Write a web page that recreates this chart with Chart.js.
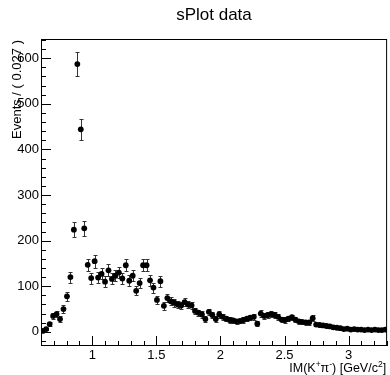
<!DOCTYPE html>
<html>
<head>
<meta charset="utf-8">
<script src="https://cdn.jsdelivr.net/npm/chart.js@4"></script>
<style>
  body { margin: 0; background: #fff; }
</style>
</head>
<body>
<canvas id="splot" width="390" height="375"></canvas>
<script>
// binning of IM(K+pi-): 100 bins of 0.027 from 0.6
const binLow = 0.6;
const binWidth = 0.027;

// sPlot weighted events per bin
const counts = [
  2, 6, 17, 35, 39, 28, 50, 78, 120, 224,
  587, 444, 227, 147, 118, 155, 119, 127, 110, 135,
  116, 123, 130, 117, 146, 112, 123, 90, 107, 146,
  146, 113, 97, 70, 111, 57, 74, 67, 64, 60,
  58, 65, 60, 58, 46, 42, 38, 28, 44, 37,
  28, 38, 33, 29, 26, 25, 23, 24, 26, 29,
  31, 33, 18, 40, 35, 37, 39, 37, 33, 27,
  26, 29, 32, 27, 23, 22, 21, 21, 30, 16,
  15, 14, 13, 12, 10, 9, 8, 6, 7, 5,
  6, 5, 5, 4, 5, 4, 5, 4, 4, 5
];

// error bar half lengths
const errors = [
  2, 3, 5, 7, 7, 6, 8, 10, 12, 17,
  26, 23, 17, 13, 12, 14, 12, 12, 12, 13,
  12, 12, 13, 12, 13, 12, 12, 10, 11, 13,
  13, 12, 11, 9, 12, 8, 9, 9, 9, 8,
  8, 9, 8, 8, 7, 7, 7, 6, 7, 7,
  6, 7, 6, 6, 6, 5, 5, 5, 6, 6,
  6, 6, 5, 7, 7, 7, 7, 7, 6, 6,
  6, 6, 6, 6, 5, 5, 5, 5, 6, 4,
  4, 4, 4, 4, 3, 3, 3, 3, 3, 2,
  3, 2, 2, 2, 2, 2, 2, 2, 2, 2
];

const xTicks = [1, 1.5, 2, 2.5, 3];
const yTicks = [0, 100, 200, 300, 400, 500, 600];
const xRange = [0.6, 3.3];
const yRange = [-31, 642];

const points = counts.map((c, i) => ({ x: binLow + binWidth * (i + 0.5), y: c }));

const font = '"Liberation Sans", Arial, sans-serif';

// ROOT-like frame, inward ticks, error bars and titles
const rootStyle = {
  id: 'rootStyle',
  beforeDatasetsDraw(chart) {
    const ctx = chart.ctx, a = chart.chartArea;
    const sx = chart.scales.x, sy = chart.scales.y;
    ctx.save();
    ctx.beginPath();
    ctx.rect(a.left, a.top, a.right - a.left, a.bottom - a.top);
    ctx.clip();
    ctx.strokeStyle = '#333';
    ctx.lineWidth = 1;
    points.forEach((p, i) => {
      const px = Math.round(sx.getPixelForValue(p.x)) + 0.5;
      const y1 = Math.round(sy.getPixelForValue(p.y - errors[i])) + 0.5;
      const y2 = Math.round(sy.getPixelForValue(p.y + errors[i])) + 0.5;
      ctx.beginPath();
      ctx.moveTo(px, y1); ctx.lineTo(px, y2);
      ctx.moveTo(px - 2, y1); ctx.lineTo(px + 2, y1);
      ctx.moveTo(px - 2, y2); ctx.lineTo(px + 2, y2);
      ctx.stroke();
    });
    ctx.restore();
  },
  afterDraw(chart) {
    const ctx = chart.ctx, a = chart.chartArea;
    const sx = chart.scales.x, sy = chart.scales.y;
    ctx.save();
    ctx.strokeStyle = '#000';
    ctx.lineWidth = 1;
    ctx.strokeRect(a.left + 0.5, a.top + 0.5, a.right - a.left - 1, a.bottom - a.top - 1);

    ctx.beginPath();
    for (let v = -20; v <= 640; v += 20) {
      const py = Math.round(sy.getPixelForValue(v)) + 0.5;
      const len = v % 100 === 0 ? 10 : 5;
      ctx.moveTo(a.left, py); ctx.lineTo(a.left + len, py);
    }
    for (let k = 6; k <= 33; k++) {
      const px = Math.round(sx.getPixelForValue(k / 10)) + 0.5;
      const len = k % 5 === 0 ? 10 : 5;
      ctx.moveTo(px, a.bottom); ctx.lineTo(px, a.bottom - len);
    }
    ctx.stroke();

    ctx.fillStyle = '#000';
    ctx.font = '17px ' + font;
    ctx.textAlign = 'center';
    ctx.textBaseline = 'middle';
    ctx.fillText('sPlot data', 214, 15);

    // y title, right-aligned to the top of the axis
    ctx.save();
    ctx.translate(17, a.top + 1);
    ctx.rotate(-Math.PI / 2);
    ctx.font = '13px ' + font;
    ctx.textAlign = 'right';
    ctx.fillText('Events / ( 0.027 )', 0, 0);
    ctx.restore();

    // x title with superscripts, right-aligned
    const parts = [
      ['IM(K', false], ['+', true], ['\u03c0', false], ['-', true],
      [') [GeV/c', false], ['2', true], [']', false]
    ];
    const big = '12.5px ' + font, small = '8.5px ' + font;
    let total = 0;
    parts.forEach(([t, sup]) => { ctx.font = sup ? small : big; total += ctx.measureText(t).width; });
    let cx = a.right - 1 - total;
    ctx.textAlign = 'left';
    ctx.textBaseline = 'alphabetic';
    parts.forEach(([t, sup]) => {
      ctx.font = sup ? small : big;
      ctx.fillText(t, cx, sup ? 367 : 372);
      cx += ctx.measureText(t).width;
    });
    ctx.restore();
  }
};

new Chart(document.getElementById('splot'), {
  type: 'scatter',
  data: {
    datasets: [{
      label: 'sPlot data',
      data: points,
      backgroundColor: '#000',
      borderWidth: 0,
      pointRadius: 2.9,
      pointHoverRadius: 2.9
    }]
  },
  options: {
    responsive: false,
    animation: false,
    events: [],
    layout: { padding: { top: 39, right: 2, left: 0, bottom: 0 } },
    plugins: {
      legend: { display: false },
      title: { display: false },
      tooltip: { enabled: false }
    },
    scales: {
      x: {
        type: 'linear',
        min: xRange[0],
        max: xRange[1],
        afterBuildTicks: s => { s.ticks = xTicks.map(v => ({ value: v })); },
        afterFit: s => { s.height = 29; },
        grid: { display: false, drawTicks: false },
        border: { display: false },
        ticks: {
          padding: 2,
          maxRotation: 0,
          autoSkip: false,
          color: '#000',
          font: { family: font, size: 13 },
          callback: v => String(v)
        }
      },
      y: {
        min: yRange[0],
        max: yRange[1],
        afterBuildTicks: s => { s.ticks = yTicks.map(v => ({ value: v })); },
        afterFit: s => { s.width = 41; },
        grid: { display: false, drawTicks: false },
        border: { display: false },
        ticks: {
          padding: 2,
          autoSkip: false,
          color: '#000',
          font: { family: font, size: 13 },
          callback: v => String(v)
        }
      }
    }
  },
  plugins: [rootStyle]
});
</script>
</body>
</html>
